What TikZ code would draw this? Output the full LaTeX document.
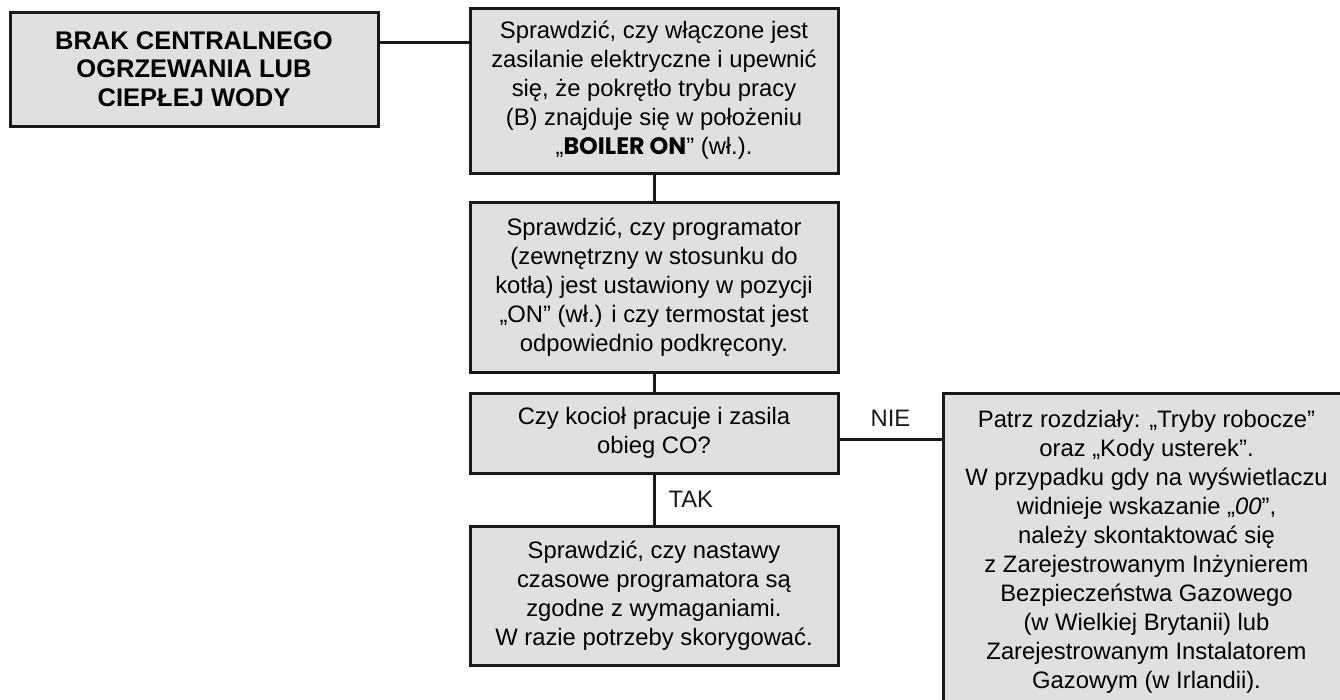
\documentclass[tikz,border=0pt]{standalone}
\usepackage{fontspec}
\setmainfont{Liberation Sans}
\newfontfamily\boilerfont{Poppins}
\usepackage{tikz}
\usetikzlibrary{positioning}
\definecolor{dfdfdf}{rgb}{0.88,0.88,0.88}
\definecolor{qqqqqq}{rgb}{0.1,0.1,0.1}

\begin{document}
\begin{tikzpicture}[line cap=rect,line join=miter,x=1pt,y=-1pt,
	box/.style={draw=qqqqqq,fill=dfdfdf,line width=3pt,align=center,inner sep=0pt,
		font=\fontsize{23.8}{29}\selectfont},
	lbl/.style={inner sep=0pt,font=\fontsize{23.8}{29}\selectfont}]
			\path[use as bounding box,clip] (0,0) rectangle (1340,699);
			
			\node[box,minimum width=368,minimum height=114,font=\fontsize{25.5}{28.4}\selectfont\bfseries] (brak) at (194,69)
				{BRAK CENTRALNEGO\\OGRZEWANIA LUB\\CIEPŁEJ WODY};
			
			\node[box,minimum width=368,minimum height=165] (zasil) at (654,90.5)
				{Sprawdzić, czy włączone jest\\zasilanie elektryczne i upewnić\\się, że pokrętło trybu pracy\\(B) znajduje się w położeniu\\„{\boilerfont\bfseries BOILER ON}” (wł.).};
			
			\node[box,minimum width=368,minimum height=170] (prog) at (654,287)
				{Sprawdzić, czy programator\\(zewnętrzny w stosunku do\\kotła) jest ustawiony w pozycji\\„ON” (wł.) i czy termostat jest\\odpowiednio podkręcony.};
			
			\node[box,minimum width=368,minimum height=80] (kociol) at (654,433)
				{Czy kocioł pracuje i zasila\\obieg CO?};
			
			\node[box,minimum width=368,minimum height=139] (nastawy) at (654,595.5)
				{Sprawdzić, czy nastawy\\czasowe programatora są\\zgodne z wymaganiami.\\W razie potrzeby skorygować.};
			
			\node[box,minimum width=407,minimum height=317] (kody) at (1146.5,551.5)
				{Patrz rozdziały: „Tryby robocze”\\oraz „Kody usterek”.\\W przypadku gdy na wyświetlaczu\\widnieje wskazanie „\textit{00}”,\\należy skontaktować się\\z Zarejestrowanym Inżynierem\\Bezpieczeństwa Gazowego\\(w Wielkiej Brytanii) lub\\Zarejestrowanym Instalatorem\\Gazowym (w Irlandii).};
			
			\draw[qqqqqq,line width=3pt] ([yshift=27pt]brak.east) -- ([yshift=27pt]brak.east -| zasil.west);
			\draw[qqqqqq,line width=3pt] (zasil) -- (prog);
			\draw[qqqqqq,line width=3pt] (prog) -- (kociol);
			\draw[qqqqqq,line width=3pt] (kociol) -- (nastawy) node[lbl,midway,right=13pt] {TAK};
			\draw[qqqqqq,line width=3pt] ([yshift=-6pt]kociol.east) -- ([yshift=-6pt]kociol.east -| kody.west)
				node[lbl,midway,above=11pt] {NIE};
		\end{tikzpicture}
\end{document}
